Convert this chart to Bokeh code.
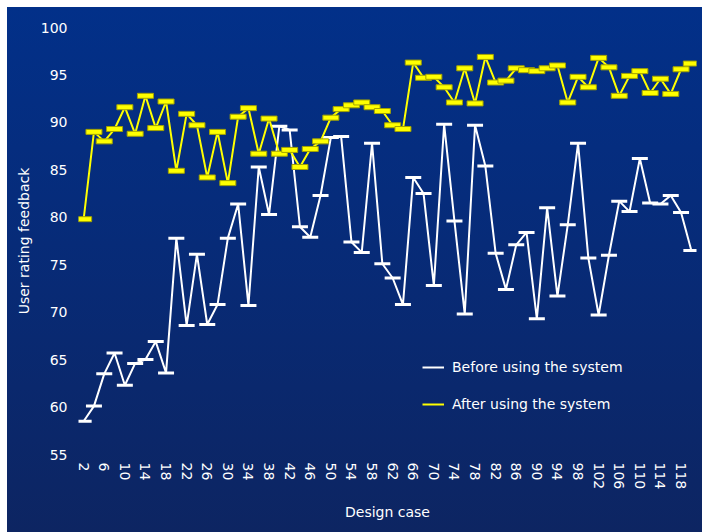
from bokeh.plotting import figure
from bokeh.models import (Range1d, FixedTicker, Legend, LegendItem,
                          InlineStyleSheet, ColumnDataSource)
from bokeh.embed import file_html
from bokeh.resources import INLINE

# Design cases (every second case is plotted)
cases = list(range(2, 122, 2))

# User rating feedback per design case
before = [58.5, 60.1, 63.5, 65.7, 62.3, 64.6, 65.0, 66.9, 63.6, 77.8,
          68.6, 76.1, 68.7, 70.8, 77.8, 81.4, 70.7, 85.3, 80.3, 89.6,
          89.2, 79.0, 77.9, 82.3, 88.4, 88.5, 77.4, 76.3, 87.8, 75.1,
          73.6, 70.8, 84.2, 82.5, 72.8, 89.8, 79.6, 69.8, 89.7, 85.4,
          76.2, 72.4, 77.1, 78.4, 69.3, 81.0, 71.7, 79.2, 87.8, 75.7,
          69.7, 76.0, 81.7, 80.6, 86.2, 81.5, 81.4, 82.3, 80.5, 76.5]
after = [79.8, 89.0, 88.0, 89.3, 91.6, 88.8, 92.8, 89.4, 92.2, 84.9,
         90.9, 89.7, 84.2, 89.0, 83.6, 90.6, 91.5, 86.7, 90.4, 86.7,
         87.1, 85.3, 87.2, 88.0, 90.5, 91.4, 91.8, 92.1, 91.6, 91.2,
         89.7, 89.3, 96.3, 94.7, 94.8, 93.7, 92.1, 95.7, 92.0, 96.9,
         94.2, 94.4, 95.7, 95.5, 95.4, 95.7, 96.0, 92.1, 94.8, 93.7,
         96.8, 95.8, 92.8, 94.9, 95.4, 93.1, 94.6, 93.0, 95.6, 96.2]

x_ticks = list(range(2, 122, 4))
y_ticks = list(range(55, 105, 5))

series_labels = ["Before using the system", "After using the system"]

FONT = "DejaVu Sans"
FONT_SIZE = "14px"
TEXT = "#ffffff"
YELLOW = "#ffff00"

src = ColumnDataSource(dict(x=cases, before=before, after=after))

p = figure(width=702, height=532,
           x_range=Range1d(1, 121), y_range=Range1d(55, 100),
           output_backend="svg", toolbar_location=None,
           min_border_left=78, min_border_right=6,
           min_border_top=27, min_border_bottom=78)

# gradient navy background behind a transparent canvas
p.stylesheets = [InlineStyleSheet(css=(
    ":host { background: linear-gradient(180deg, #023089 0%, #072b78 45%, "
    "#0d2562 100%) 7px 7px / calc(100% - 7px) calc(100% - 7px) no-repeat, "
    "#ffffff; }"))]
p.background_fill_color = None
p.border_fill_color = None
p.outline_line_color = None
p.grid.visible = False

for ax in (p.xaxis[0], p.yaxis[0]):
    ax.axis_line_color = None
    ax.major_tick_line_color = None
    ax.minor_tick_line_color = None
    ax.major_tick_in = 0
    ax.major_tick_out = 0
    ax.minor_tick_out = 0
    ax.major_label_text_color = TEXT
    ax.major_label_text_font = FONT
    ax.major_label_text_font_size = FONT_SIZE
    ax.axis_label_text_color = TEXT
    ax.axis_label_text_font = FONT
    ax.axis_label_text_font_size = FONT_SIZE
    ax.axis_label_text_font_style = "normal"

p.xaxis.ticker = FixedTicker(ticks=x_ticks)
p.xaxis.major_label_orientation = "vertical"
p.xaxis.major_label_standoff = 8
p.xaxis.axis_label = "Design case"
p.xaxis.axis_label_standoff = 12

p.yaxis.ticker = FixedTicker(ticks=y_ticks)
p.yaxis.major_label_standoff = 11
p.yaxis.axis_label = "User rating feedback"
p.yaxis.axis_label_standoff = 6

# before: white line with flat bar markers
l_before = p.line("x", "before", source=src, line_color="#ffffff", line_width=2)
p.rect("x", "before", source=src, width=16, height=3,
       width_units="screen", height_units="screen",
       fill_color="#ffffff", line_color=None)

# after: yellow line with olive-edged bar markers
l_after = p.line("x", "after", source=src, line_color=YELLOW, line_width=2)
p.rect("x", "after", source=src, width=16, height=5,
       width_units="screen", height_units="screen",
       fill_color=YELLOW, line_color="#a3a300", line_width=1)

legend = Legend(items=[LegendItem(label=series_labels[0], renderers=[l_before]),
                       LegendItem(label=series_labels[1], renderers=[l_after])],
                location=(344, 42), orientation="vertical",
                background_fill_alpha=0, border_line_alpha=0,
                label_text_color=TEXT, label_text_font=FONT,
                label_text_font_size=FONT_SIZE,
                glyph_width=22, glyph_height=16, label_height=16,
                label_standoff=8, spacing=21, padding=0, margin=0)
p.add_layout(legend)

open("out.html", "w").write(file_html(p, INLINE))
